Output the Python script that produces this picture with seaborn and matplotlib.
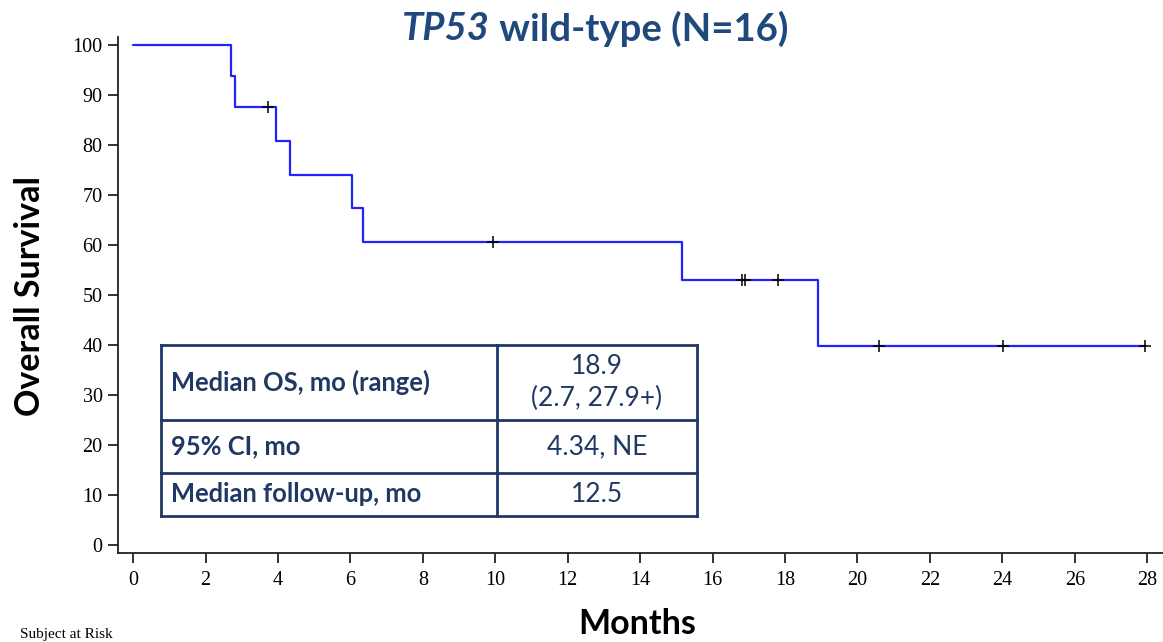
import matplotlib
matplotlib.use("Agg")
import matplotlib.pyplot as plt
import seaborn as sns
import pandas as pd
from matplotlib.lines import Line2D

# Kaplan-Meier step levels (months, % surviving)
step_months = [0, 2.7, 2.82, 3.93, 4.34, 6.05, 6.35, 15.16, 18.9, 27.93]
step_survival = [100, 93.75, 87.5, 80.77, 74.04, 67.31, 60.58, 53.0, 39.76, 39.76]

# Censored observations (months)
censor_months = [3.71, 9.93, 16.80, 16.89, 17.81, 20.59, 24.03, 27.93]

x_ticks = list(range(0, 29, 2))
y_ticks = list(range(0, 101, 10))

table_rows = [
    ("Median OS, mo (range)", "18.9\n(2.7, 27.9+)"),
    ("95% CI, mo", "4.34, NE"),
    ("Median follow-up, mo", "12.5"),
]

NAVY = "#1F3864"
TITLE_BLUE = "#1F497D"

sns.set_style("ticks")
plt.rcParams["font.family"] = ["Liberation Serif", "DejaVu Serif"]

W, H = 1163, 642
fig = plt.figure(figsize=(W / 100, H / 100), dpi=100)
ax = fig.add_axes([118 / W, 1 - 553 / H, (1170 - 118) / W, (553 - 37) / H])

curve = pd.DataFrame({"month": step_months, "survival": step_survival})
sns.lineplot(data=curve, x="month", y="survival", ax=ax, drawstyle="steps-post",
             estimator=None, sort=False, color="#2222FF", linewidth=1.6)


def level_at(t):
    lvl = step_survival[0]
    for m, s in zip(step_months, step_survival):
        if m <= t:
            lvl = s
    return lvl


cens = pd.DataFrame({"month": censor_months,
                     "survival": [level_at(t) for t in censor_months]})
sns.scatterplot(data=cens, x="month", y="survival", ax=ax, marker="+",
                color="black", s=70, linewidth=1.1, zorder=5)

ax.set_xlim(-0.42, (1170 - 133.3) / 36.21)
ax.set_ylim(-1.6, 101.6)
ax.set_xticks(x_ticks)
ax.set_yticks(y_ticks)
ax.set_xlabel("")
ax.set_ylabel("")
for side in ("top", "right"):
    ax.spines[side].set_visible(False)
for side in ("left", "bottom"):
    ax.spines[side].set_linewidth(1.3)
    ax.spines[side].set_color("#222222")
ax.tick_params(axis="both", length=7, width=1.3, color="#222222",
               labelsize=14.5, labelcolor="black", pad=4)
ax.tick_params(axis="x", pad=6)

# Titles and axis labels
sans = ["Lato", "DejaVu Sans"]
title_y = 1 - 29 / H
t1 = fig.text(0, title_y, "TP53", fontsize=27.5, fontweight="bold", style="italic",
              color=TITLE_BLUE, family=sans, va="center", ha="left")
t2 = fig.text(0, title_y, " wild-type (N=16)", fontsize=27.5, fontweight="bold",
              color=TITLE_BLUE, family=sans, va="center", ha="left")
fig.canvas.draw()
r = fig.canvas.get_renderer()
w1 = t1.get_window_extent(r).width
w2 = t2.get_window_extent(r).width
start = 595 - (w1 + w2) / 2
t1.set_x(start / W)
t2.set_x((start + w1) / W)

fig.text(30 / W, 1 - 296 / H, "Overall Survival", rotation=90, fontsize=24.5,
         fontweight="bold", family=sans, ha="center", va="center", color="black")
fig.text(637 / W, 1 - 624 / H, "Months", fontsize=24.5, fontweight="bold",
         family=sans, ha="center", va="center", color="black")
fig.text(20 / W, 1 - 641 / H, "Subject at Risk", fontsize=11, ha="left",
         va="bottom", color="black")

# Summary table
left, split, right = 161, 497, 697
rows_y = [345, 420, 473, 516]
lw = 2.0


def fx(px):
    return px / W


def fy(py):
    return 1 - py / H


fig.patches.append(plt.Rectangle((fx(left), fy(rows_y[-1])),
                                 fx(right) - fx(left), fy(rows_y[0]) - fy(rows_y[-1]),
                                 transform=fig.transFigure, facecolor="white",
                                 edgecolor="none", zorder=0.5))
for yy in rows_y:
    fig.add_artist(Line2D([fx(left), fx(right)], [fy(yy), fy(yy)],
                          color=NAVY, linewidth=lw, solid_capstyle="projecting"))
for xx in (left, split, right):
    fig.add_artist(Line2D([fx(xx), fx(xx)], [fy(rows_y[0]), fy(rows_y[-1])],
                          color=NAVY, linewidth=lw, solid_capstyle="projecting"))

for i, (label, value) in enumerate(table_rows):
    cy = (rows_y[i] + rows_y[i + 1]) / 2
    fig.text(fx(171), fy(cy), label, fontsize=18.4, fontweight="bold", family=sans,
             color=NAVY, ha="left", va="center")
    fig.text(fx((split + right) / 2), fy(cy), value, fontsize=19, family=sans,
             color=NAVY, ha="center", va="center", linespacing=1.3,
             multialignment="center")

fig.savefig("out.png", dpi=100)
